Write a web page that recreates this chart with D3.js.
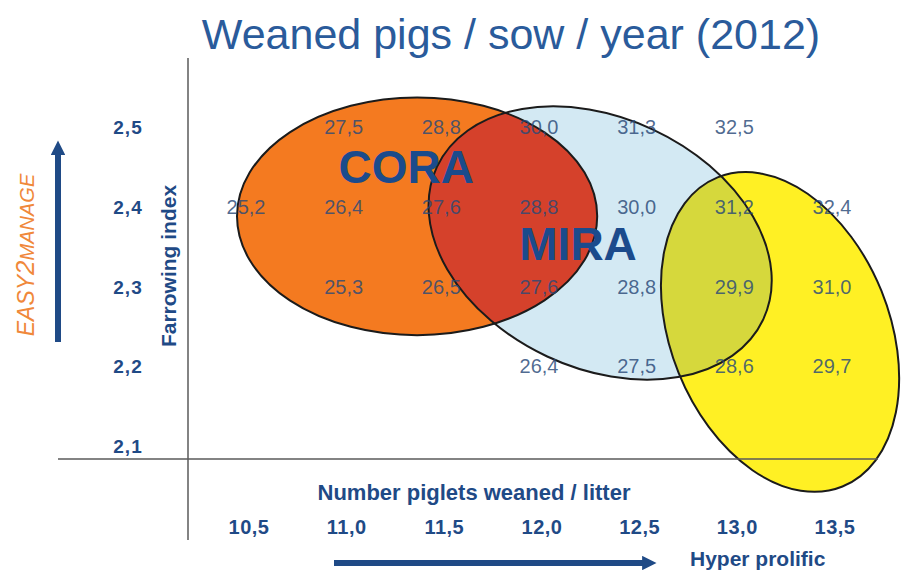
<!DOCTYPE html>
<html>
<head>
<meta charset="utf-8">
<script src="https://cdn.jsdelivr.net/npm/d3@7"></script>
<style>
  html, body { margin: 0; padding: 0; background: #ffffff; }
  svg { display: block; font-family: "Liberation Sans", Arial, sans-serif; }
</style>
</head>
<body>
<svg id="chart" width="909" height="574"></svg>
<script>
// ---- data ----
const title = "Weaned pigs / sow / year (2012)";
const xValues = [10.5, 11.0, 11.5, 12.0, 12.5, 13.0, 13.5];           // piglets weaned / litter
const xTickLabels = ["10,5", "11,0", "11,5", "12,0", "12,5", "13,0", "13,5"];
const yValues = [2.5, 2.4, 2.3, 2.2, 2.1];                            // farrowing index
const yTickLabels = ["2,5", "2,4", "2,3", "2,2", "2,1"];
// weaned pigs per sow per year (null = blank cell)
const row25 = [null, "27,5", "28,8", "30,0", "31,3", "32,5", null];
const row24 = ["25,2", "26,4", "27,6", "28,8", "30,0", "31,2", "32,4"];
const row23 = [null, "25,3", "26,5", "27,6", "28,8", "29,9", "31,0"];
const row22 = [null, null, null, "26,4", "27,5", "28,6", "29,7"];
const rowsIndex = [2.5, 2.4, 2.3, 2.2];
// groups drawn as ellipses in data coordinates: centre (piglets, index), radii, tilt
const groupNames = ["CORA", "MIRA", "HYPER"];
const groupCx = [11.376, 12.313, 13.234];
const groupCy = [2.388, 2.3545, 2.243];
const groupRx = [0.922, 0.922, 0.56];
const groupRy = [0.149, 0.157, 0.209];
const groupTilt = [0, 25, -22];
const groupFill = ["#F47A20", "#D3E9F3", "#FFF024"];
const labelNames = ["CORA", "MIRA"];
const labelX = [11.32, 12.2];
const labelY = [2.43, 2.333];

// ---- scales ----
const svg = d3.select("#chart");
const x = d3.scaleLinear().domain([10.5, 13.5]).range([246, 832]);
const y = d3.scaleLinear().domain([2.1, 2.5]).range([446, 127]);
const navy = "#1F4A86";

// ---- title ----
svg.append("text").attr("x", 511).attr("y", 49).attr("text-anchor", "middle")
  .attr("font-size", 43).attr("fill", "#2A5B9B").text(title);

// ---- ellipses ----
const defs = svg.append("defs");
const ell = groupNames.map((n, i) => ({
  name: n, cx: x(groupCx[i]), cy: y(groupCy[i]),
  rx: x(groupCx[i] + groupRx[i]) - x(groupCx[i]),
  ry: y(groupCy[i]) - y(groupCy[i] + groupRy[i]),
  tilt: groupTilt[i], fill: groupFill[i]
}));
function addEllipse(sel, e) {
  return sel.append("ellipse").attr("cx", 0).attr("cy", 0).attr("rx", e.rx).attr("ry", e.ry)
    .attr("transform", `translate(${e.cx},${e.cy}) rotate(${e.tilt})`);
}
const clip = defs.append("clipPath").attr("id", "clipMira");
addEllipse(clip, ell[1]);

const gE = svg.append("g");
ell.forEach(e => addEllipse(gE, e).attr("fill", e.fill));
addEllipse(gE.append("g").attr("clip-path", "url(#clipMira)"), ell[0]).attr("fill", "#D5412B");
addEllipse(gE.append("g").attr("clip-path", "url(#clipMira)"), ell[2]).attr("fill", "#D6D83C");
ell.forEach(e => addEllipse(gE, e).attr("fill", "none").attr("stroke", "#1b1b1b").attr("stroke-width", 2));

// ---- axes lines ----
svg.append("line").attr("x1", 58).attr("x2", 878).attr("y1", 459).attr("y2", 459)
  .attr("stroke", "#5a5a5a").attr("stroke-width", 1.5);
svg.append("line").attr("x1", 188).attr("x2", 188).attr("y1", 58).attr("y2", 540)
  .attr("stroke", "#5a5a5a").attr("stroke-width", 1.5);

// ---- y tick labels ----
svg.append("g").selectAll("text").data(yValues).join("text")
  .attr("x", 128).attr("y", d => y(d) + 7).attr("text-anchor", "middle")
  .attr("font-size", 19).attr("font-weight", "bold").attr("fill", navy)
  .attr("letter-spacing", 1)
  .text((d, i) => yTickLabels[i]);

// ---- x tick labels ----
svg.append("g").selectAll("text").data(xValues).join("text")
  .attr("x", d => x(d) + 3).attr("y", 534).attr("text-anchor", "middle")
  .attr("font-size", 20).attr("font-weight", "bold").attr("fill", navy)
  .attr("letter-spacing", 0.5)
  .text((d, i) => xTickLabels[i]);

// ---- cell values ----
const rows = [row25, row24, row23, row22];
const cells = [];
rows.forEach((r, ri) => r.forEach((v, ci) => { if (v) cells.push({ v, px: xValues[ci], py: rowsIndex[ri] }); }));
svg.append("g").selectAll("text").data(cells).join("text")
  .attr("x", d => x(d.px)).attr("y", d => y(d.py) + 7).attr("text-anchor", "middle")
  .attr("font-size", 20).attr("fill", "#2A4A78").attr("fill-opacity", 0.82)
  .text(d => d.v);

// ---- group labels ----
svg.append("g").selectAll("text").data(labelNames).join("text")
  .attr("x", (d, i) => x(labelX[i])).attr("y", (d, i) => y(labelY[i]))
  .attr("text-anchor", "middle").attr("font-size", 46).attr("font-weight", "bold")
  .attr("fill", "#1B4B8C").text(d => d);

// ---- axis titles ----
svg.append("text").attr("transform", "translate(176,266) rotate(-90)").attr("text-anchor", "middle")
  .attr("font-size", 21).attr("font-weight", "bold").attr("fill", navy).text("Farrowing index");
svg.append("text").attr("x", 474).attr("y", 500).attr("text-anchor", "middle")
  .attr("font-size", 22).attr("font-weight", "bold").attr("fill", navy)
  .text("Number piglets weaned / litter");
svg.append("text").attr("x", 690).attr("y", 566)
  .attr("font-size", 21).attr("font-weight", "bold").attr("fill", navy).text("Hyper prolific");

const e2m = svg.append("text").attr("transform", "translate(34,255) rotate(-90)").attr("text-anchor", "middle")
  .attr("font-style", "italic").attr("fill", "#F0883A");
e2m.append("tspan").attr("font-size", 23).text("EASY");
e2m.append("tspan").attr("font-size", 26).text("2");
e2m.append("tspan").attr("font-size", 20).text("MANAGE");

// ---- arrows ----
defs.append("marker").attr("id", "ah").attr("viewBox", "0 0 10 10").attr("refX", 2).attr("refY", 5)
  .attr("markerWidth", 2.4).attr("markerHeight", 2.4).attr("orient", "auto")
  .append("path").attr("d", "M0,0 L10,5 L0,10 z").attr("fill", navy);
svg.append("line").attr("x1", 58).attr("x2", 58).attr("y1", 342).attr("y2", 152)
  .attr("stroke", navy).attr("stroke-width", 6).attr("marker-end", "url(#ah)");
svg.append("line").attr("x1", 334).attr("x2", 645).attr("y1", 563).attr("y2", 563)
  .attr("stroke", navy).attr("stroke-width", 6).attr("marker-end", "url(#ah)");
</script>
</body>
</html>
